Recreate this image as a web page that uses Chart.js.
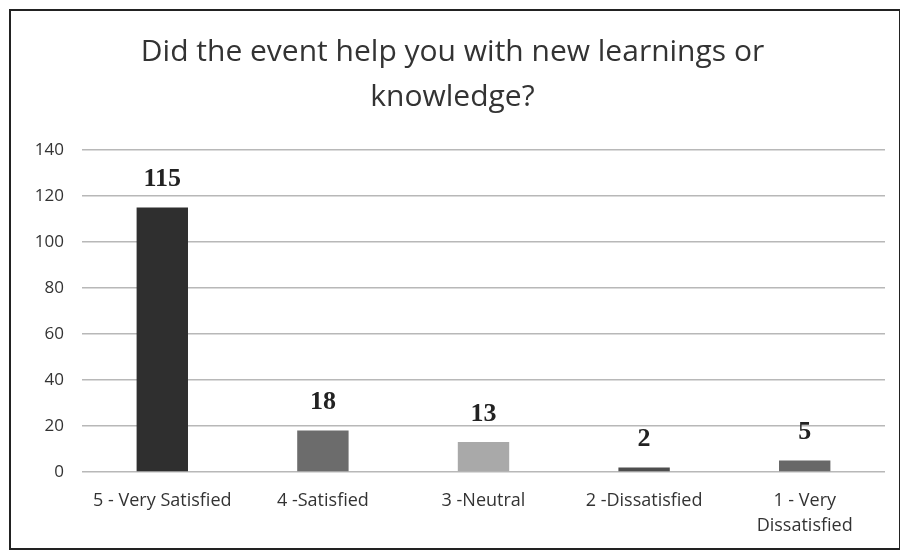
<!DOCTYPE html>
<html>
<head>
<meta charset="utf-8">
<script src="https://cdn.jsdelivr.net/npm/chart.js@4"></script>
<style>
  html, body { margin: 0; padding: 0; background: #fff; }
  #wrap { width: 900px; height: 555px; position: relative; }
</style>
</head>
<body>
<div id="wrap"><canvas id="surveyChart" width="900" height="555"></canvas></div>
<script>
// Survey data
const categories = ['5 - Very Satisfied', '4 -Satisfied', '3 -Neutral', '2 -Dissatisfied', ['1 - Very', 'Dissatisfied']];
const responses = [115, 18, 13, 2, 5];
const yTicks = [0, 20, 40, 60, 80, 100, 120, 140];
const barColors = ['#2f2f2f', '#6c6c6c', '#a9a9a9', '#4e4e4e', '#686868'];

// frame around the whole chart, like the scanned page
const framePlugin = {
    id: 'frame',
    beforeDraw(chart) {
        const ctx = chart.ctx;
        ctx.save();
        ctx.fillStyle = '#fff';
        ctx.fillRect(0, 0, chart.width, chart.height);
        ctx.strokeStyle = '#222';
        ctx.lineWidth = 2;
        ctx.strokeRect(10, 10, 890, 539);
        ctx.restore();
    }
};

// bold numbers above each bar
const valueLabels = {
    id: 'valueLabels',
    afterDatasetsDraw(chart) {
        const ctx = chart.ctx;
        const meta = chart.getDatasetMeta(0);
        ctx.save();
        ctx.font = 'bold 26px "Liberation Serif"';
        ctx.fillStyle = '#222';
        ctx.textAlign = 'center';
        ctx.textBaseline = 'middle';
        meta.data.forEach((bar, i) => {
            ctx.fillText(String(responses[i]), bar.x, bar.y - 28);
        });
        ctx.restore();
    }
};

const ctx = document.getElementById('surveyChart').getContext('2d');
const surveyChart = new Chart(ctx, {
    type: 'bar',
    data: {
        labels: categories,
        datasets: [{
            data: responses,
            backgroundColor: barColors,
            barPercentage: 0.64,
            categoryPercentage: 0.5
        }]
    },
    options: {
        responsive: false,
        animation: false,
        layout: { padding: { top: 10, left: 20, right: 15, bottom: 0 } },
        plugins: {
            legend: { display: false },
            tooltip: { enabled: false },
            title: {
                display: true,
                text: ['Did the event help you with new learnings or', 'knowledge?'],
                color: '#333',
                font: { family: 'Open Sans', size: 30, weight: 'normal', lineHeight: 1.5 },
                padding: { top: 20, bottom: 30 }
            }
        },
        scales: {
            x: {
                grid: { display: false, drawTicks: false },
                border: { display: false },
                ticks: {
                    color: '#333',
                    font: { family: 'Open Sans', size: 18, lineHeight: 1.4 },
                    padding: 16
                },
                afterFit(scale) { scale.height = 83; }
            },
            y: {
                min: 0,
                max: 140,
                afterBuildTicks(scale) { scale.ticks = yTicks.map(v => ({ value: v })); },
                grid: { color: '#b8b8b8', lineWidth: 1.5, drawTicks: false },
                border: { display: false },
                ticks: {
                    color: '#333',
                    font: { family: 'Open Sans', size: 17 },
                    padding: 18
                },
                afterFit(scale) { scale.width = 62; }
            }
        }
    },
    plugins: [framePlugin, valueLabels]
});
</script>
</body>
</html>
